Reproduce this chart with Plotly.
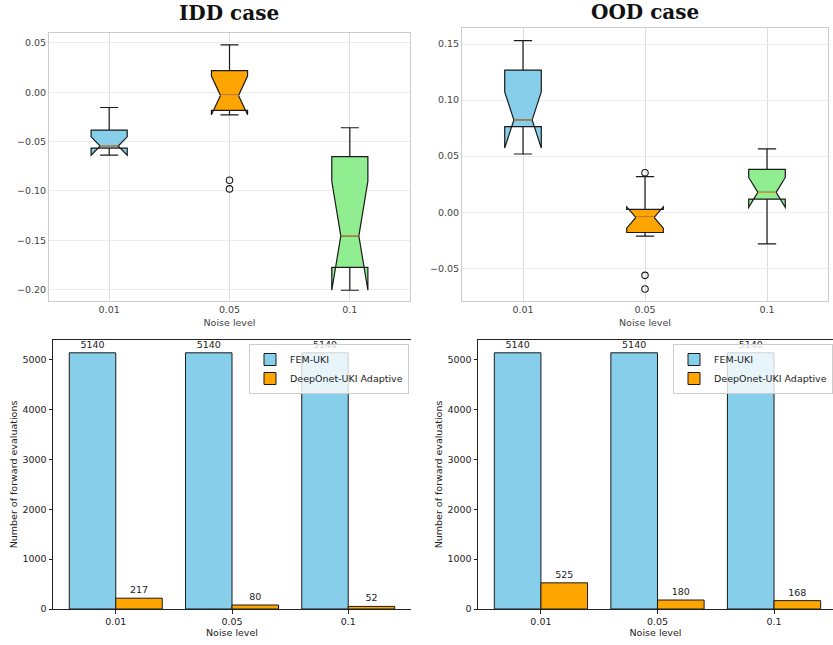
import plotly.graph_objects as go

# Noise levels shared by all four panels
noise_labels = ["0.01", "0.05", "0.1"]
positions = [0, 1, 2]
box_colors = ["#87CEEB", "#FFA500", "#90EE90"]

# Error statistics, in-distribution case (per noise level)
idd_q1 = [-0.0565, -0.0184, -0.1774]
idd_median = [-0.0544, -0.0032, -0.1454]
idd_q3 = [-0.0383, 0.0220, -0.0652]
idd_lower = [-0.0615, -0.0204, -0.1993]
idd_upper = [-0.0154, 0.0480, -0.0359]
idd_notch = [0.0093, 0.0196, 0.0552]
idd_outliers = [[], [-0.0892, -0.0979], []]

# Error statistics, out-of-distribution case (per noise level)
ood_q1 = [0.0764, -0.0181, 0.0117]
ood_median = [0.0823, -0.0047, 0.0177]
ood_q3 = [0.1268, 0.0025, 0.0382]
ood_lower = [0.0519, -0.0214, -0.0282]
ood_upper = [0.1530, 0.0317, 0.0564]
ood_notch = [0.0250, 0.0095, 0.0133]
ood_outliers = [[], [0.0352, -0.0563, -0.0685], []]

# Number of forward evaluations
idd_fem = [5140, 5140, 5140]
idd_deeponet = [217, 80, 52]
ood_fem = [5140, 5140, 5140]
ood_deeponet = [525, 180, 168]

W, H = 833, 645
BOX_W = 0.3
NOTCH_W = 0.25  # each side indents by this fraction -> waist is half the box

fig = go.Figure()


def px_x(a, b):
    return [a / W, min(b / W, 1.0)]


def px_y(top, bottom):
    return [1 - bottom / H, 1 - top / H]


def add_boxes(xa, ya, q1, med, q3, lo, up, notch, outliers):
    for i, p in enumerate(positions):
        fig.add_trace(go.Box(
            x=[p], q1=[q1[i]], median=[med[i]], q3=[q3[i]],
            lowerfence=[lo[i]], upperfence=[up[i]], notchspan=[notch[i]],
            notched=True, notchwidth=NOTCH_W, width=BOX_W, whiskerwidth=0.5,
            boxpoints=False, fillcolor=box_colors[i],
            line=dict(color="#1a1a1a", width=1.2),
            xaxis=xa, yaxis=ya, showlegend=False, hoverinfo="skip",
        ))
        half = BOX_W / 2 * (1 - 2 * NOTCH_W)
        fig.add_trace(go.Scatter(
            x=[p - half, p + half], y=[med[i], med[i]], mode="lines",
            line=dict(color="#f5a04a", width=1),
            xaxis=xa, yaxis=ya, showlegend=False, hoverinfo="skip",
        ))
        if outliers[i]:
            fig.add_trace(go.Scatter(
                x=[p] * len(outliers[i]), y=outliers[i], mode="markers",
                marker=dict(symbol="circle-open", size=6.5,
                            color="#1a1a1a", line=dict(width=1.1)),
                xaxis=xa, yaxis=ya, showlegend=False, hoverinfo="skip",
            ))


def add_bars(xa, ya, fem, deep, legend):
    fig.add_trace(go.Bar(
        x=positions, y=fem, width=0.4, offset=-0.4, name="FEM-UKI",
        marker=dict(color="#87CEEB", line=dict(color="#1a1a1a", width=1)),
        text=fem, textposition="outside", cliponaxis=False,
        textfont=dict(size=9.5, color="#222", family="DejaVu Sans"),
        xaxis=xa, yaxis=ya, legend=legend,
    ))
    fig.add_trace(go.Bar(
        x=positions, y=deep, width=0.4, offset=0.0,
        name="DeepOnet-UKI Adaptive",
        marker=dict(color="#FFA500", line=dict(color="#1a1a1a", width=1)),
        text=deep, textposition="outside", cliponaxis=False,
        textfont=dict(size=9.5, color="#222", family="DejaVu Sans"),
        xaxis=xa, yaxis=ya, legend=legend,
    ))


add_boxes("x", "y", idd_q1, idd_median, idd_q3, idd_lower, idd_upper,
          idd_notch, idd_outliers)
add_boxes("x2", "y2", ood_q1, ood_median, ood_q3, ood_lower, ood_upper,
          ood_notch, ood_outliers)
add_bars("x3", "y3", idd_fem, idd_deeponet, "legend")
add_bars("x4", "y4", ood_fem, ood_deeponet, "legend2")

tick_font = dict(family="DejaVu Sans", size=9.5, color="#444")
title_font = dict(family="DejaVu Sans", size=9.5, color="#444")

grid_x = dict(
    tickvals=positions, ticktext=noise_labels, automargin=False,
    showgrid=True, gridcolor="#dcdcdc", gridwidth=1,
    showline=True, linecolor="#cccccc", linewidth=1, mirror=True,
    ticks="", tickfont=tick_font, zeroline=False,
    title=dict(text="Noise level", font=title_font, standoff=4),
)
grid_y = dict(
    showgrid=True, gridcolor="#ececec", gridwidth=1, tickformat=".2f",
    showline=True, linecolor="#cccccc", linewidth=1, mirror=True,
    ticks="", tickfont=tick_font, zeroline=False, automargin=False,
)

bar_x = dict(
    tickvals=positions, ticktext=noise_labels, automargin=False,
    showgrid=False, zeroline=False,
    showline=True, linecolor="#222", linewidth=1, mirror=True,
    ticks="outside", ticklen=3.5, tickcolor="#222",
    tickfont=dict(family="DejaVu Sans", size=9.5, color="#222"),
    title=dict(text="Noise level",
               font=dict(family="DejaVu Sans", size=9.5, color="#222"),
               standoff=3),
)
bar_y = dict(
    range=[0, 5397], tickvals=[0, 1000, 2000, 3000, 4000, 5000],
    showgrid=False, zeroline=False, automargin=False,
    showline=True, linecolor="#222", linewidth=1,
    ticks="outside", ticklen=3.5, tickcolor="#222",
    tickfont=dict(family="DejaVu Sans", size=9.5, color="#222"),
    title=dict(text="Number of forward evaluations",
               font=dict(family="DejaVu Sans", size=9.5, color="#222"),
               standoff=3),
)

legend_style = dict(
    bgcolor="rgba(255,255,255,0.8)", bordercolor="#cccccc", borderwidth=1,
    font=dict(family="DejaVu Sans", size=9.5, color="#222"),
    yanchor="top", xanchor="right", tracegroupgap=0, itemwidth=30,
)

fig.update_layout(
    width=W, height=H, margin=dict(l=0, r=0, t=0, b=0),
    paper_bgcolor="white", plot_bgcolor="white",
    xaxis=dict(grid_x, domain=px_x(49, 410), range=[-0.5, 2.5], anchor="y"),
    yaxis=dict(grid_y, domain=px_y(33, 301), range=[-0.2115, 0.0601],
               tickvals=[0.05, 0.0, -0.05, -0.10, -0.15, -0.20], anchor="x"),
    xaxis2=dict(grid_x, domain=px_x(462, 828), range=[-0.5, 2.5], anchor="y2"),
    yaxis2=dict(grid_y, domain=px_y(28, 301), range=[-0.0792, 0.1643],
                tickvals=[0.15, 0.10, 0.05, 0.0, -0.05], anchor="x2"),
    xaxis3=dict(bar_x, domain=px_x(53, 411), range=[-0.54, 2.54], anchor="y3"),
    yaxis3=dict(bar_y, domain=px_y(340, 609), anchor="x3"),
    xaxis4=dict(bar_x, domain=px_x(478, 833), range=[-0.54, 2.506],
                anchor="y4"),
    yaxis4=dict(bar_y, domain=px_y(340, 609), anchor="x4"),
    legend=dict(legend_style, x=409 / W, y=1 - 344 / H),
    legend2=dict(legend_style, x=1.0, y=1 - 344 / H),
    annotations=[
        dict(text="<b>IDD case</b>", x=229.5 / W, y=1 - 13.5 / H,
             xanchor="center", yanchor="middle",
             xref="paper", yref="paper", showarrow=False,
             font=dict(family="DejaVu Serif", size=20, color="#111")),
        dict(text="<b>OOD case</b>", x=645 / W, y=1 - 12 / H,
             xanchor="center", yanchor="middle",
             xref="paper", yref="paper", showarrow=False,
             font=dict(family="DejaVu Serif", size=20, color="#111")),
    ],
)

fig.write_html("out.html")
